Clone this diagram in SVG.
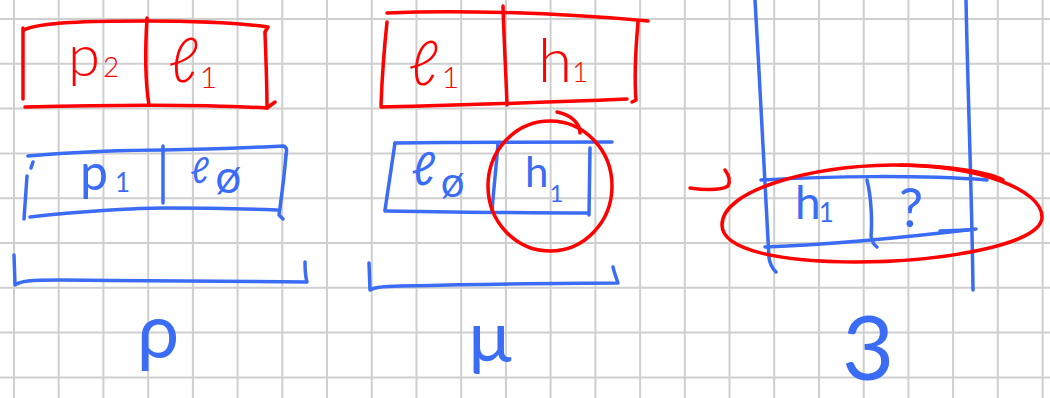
<svg xmlns="http://www.w3.org/2000/svg" width="1050" height="398" viewBox="0 0 1050 398">
<style>
.grid{stroke:#cfcfcf;stroke-width:2;fill:none}
.r{stroke:#ff0000;stroke-width:3.5;fill:none;stroke-linecap:round;stroke-linejoin:round}
.b{stroke:#3b6cf6;stroke-width:3.5;fill:none;stroke-linecap:round;stroke-linejoin:round}
.tr{fill:#ff0000;font-family:Lato,'Liberation Sans','DejaVu Sans',sans-serif;font-weight:300}
.tb{fill:#3b6cf6;font-family:Lato,'Liberation Sans','DejaVu Sans',sans-serif;font-weight:400}
</style>
<rect width="1050" height="398" fill="#ffffff"/>
<path class="grid" d="M14,0V398M58.7,0V398M103.4,0V398M148.2,0V398M192.9,0V398M237.6,0V398M282.3,0V398M327,0V398M371.8,0V398M416.5,0V398M461.2,0V398M505.9,0V398M550.6,0V398M595.4,0V398M640.1,0V398M684.8,0V398M729.5,0V398M774.2,0V398M819,0V398M863.7,0V398M908.4,0V398M953.1,0V398M997.8,0V398M1042.6,0V398M0,19H1050M0,63.8H1050M0,108.6H1050M0,153.4H1050M0,198.2H1050M0,243H1050M0,287.8H1050M0,332.6H1050M0,377.4H1050"/>

<g id="red-p2-l1">
<path class="r" d="M24,30 C40,22 90,21 146,21 C200,21 240,23 268,27 L265,32"/>
<path class="r" d="M23,28 L23,99"/>
<path class="r" d="M25,107 C100,105 200,104 267,108 L275,102"/>
<path class="r" d="M265,33 C266,60 267,85 267,108"/>
<path class="r" d="M147,18 C145,50 145,80 149,105"/>
<text class="tr" x="68" y="76" font-size="58">p<tspan font-size="28" dx="3" dy="1">2</tspan></text>
<text class="tr" x="168" y="82" font-size="62">ℓ<tspan font-size="30" dx="1" dy="6">1</tspan></text>
</g>

<g id="blue-p1-l0">
<path class="b" d="M28,156 C70,152 130,150 163,150 C220,149 260,147 283,146 C287,147 287,150 286,155"/>
<path class="b" d="M286,155 C284,180 281,200 279,215 L283,219"/>
<path class="b" d="M33,162 L31,168 M27,176 L24,219"/>
<path class="b" d="M30,217 C80,211 140,208 163,208 C210,208 250,209 277,210"/>
<path class="b" d="M163,146 L163,203"/>
<text class="tb" x="80" y="190" font-size="50">p<tspan font-size="26" dx="7" dy="2">1</tspan></text>
<text class="tb" x="190" y="183" font-size="36">ℓ<tspan font-size="46" dx="6" dy="10">ø</tspan></text>
</g>

<g id="bracket-rho">
<path class="b" d="M14,255 L15,285 C20,281 30,280 60,280 C150,281 250,282 307,282 C305,275 305,268 305,262"/>
<text class="tb" x="158" y="358" font-size="75" text-anchor="middle">ρ</text>
</g>

<g id="red-l1-h1">
<path class="r" d="M387,13 C450,10 550,12 648,21"/>
<path class="r" d="M387,22 C384,50 382,80 381,105"/>
<path class="r" d="M381,107 C450,105 510,104 627,99"/>
<path class="r" d="M638,22 C636,45 634,75 636,100 L632,102"/>
<path class="r" d="M503,6 C504,40 506,75 507,105"/>
<text class="tr" x="408" y="85" font-size="62">ℓ<tspan font-size="30" dx="3" dy="3">1</tspan></text>
<text class="tr" x="538" y="82" font-size="62">h<tspan font-size="28" dx="0">1</tspan></text>
</g>

<g id="blue-l0-h1">
<path class="b" d="M395,143 C470,142 550,142 612,142"/>
<path class="b" d="M395,143 L385,210"/>
<path class="b" d="M385,211 C450,212 520,213 587,213"/>
<path class="b" d="M498,143 C496,170 493,195 492,212"/>
<path class="b" d="M590,148 L589,215"/>
<text class="tb" x="411" y="185" font-size="46">ℓ<tspan font-size="42" dx="5" dy="12">ø</tspan></text>
<text class="tb" x="525" y="187" font-size="42">h<tspan font-size="24" dx="1" dy="15">1</tspan></text>
</g>

<g id="red-circle">
<ellipse class="r" cx="550" cy="186" rx="62" ry="65"/>
<path class="r" d="M557,112 C572,115 580,124 580,133"/>
</g>

<g id="bracket-mu">
<path class="b" d="M369,263 L370,290 C374,287 380,287 400,286 C500,284 560,283 618,283 C616,277 614,272 613,267"/>
<text class="tb" x="490" y="362" font-size="72" text-anchor="middle">μ</text>
</g>

<g id="column-3">
<path class="b" d="M755,0 C760,90 766,190 769,258 C770,265 772,268 776,272"/>
<path class="b" d="M966,0 C968,100 972,200 973,290"/>
<path class="b" d="M761,180 C830,176 920,175 987,180"/>
<path class="b" d="M765,247 C820,245 900,238 976,229"/>
<path class="b" d="M940,231 L968,230"/>
<path class="b" d="M867,180 C872,200 872,225 871,236 C872,242 874,245 877,247"/>
<text class="tb" x="795" y="219" font-size="46">h<tspan font-size="26" dx="-2" dy="3">1</tspan></text>
<text class="tb" x="899" y="227" font-size="54">?</text>
<text class="tb" x="868" y="380" font-size="90" text-anchor="middle">3</text>
</g>

<g id="red-ellipse">
<path class="r" d="M722,225 C722,190 810,166 893,165 C980,165 1042,190 1042,217 C1042,245 940,262 856,262 C780,262 722,250 722,225 Z"/>
<path class="r" stroke-width="5.5" d="M900,165 C950,166 990,172 1003,180"/>
</g>

<g id="connectors">
<path class="r" d="M690,188 C705,190 720,191 728,186 C731,180 728,174 725,170"/>
</g>
</svg>
